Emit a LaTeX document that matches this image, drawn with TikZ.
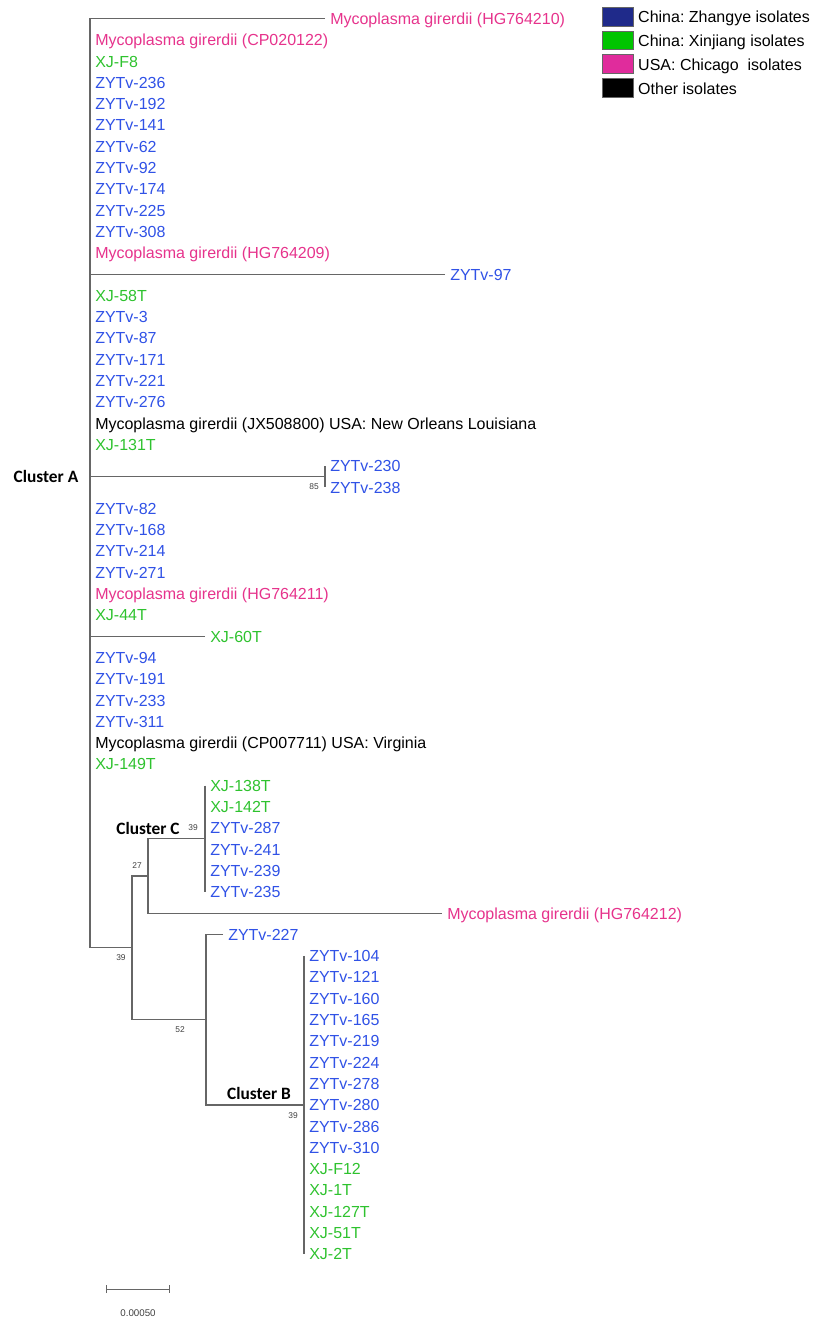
\documentclass[tikz,border=0pt]{standalone}
\usepackage{fontspec}
\setmainfont{Liberation Sans}
\newfontfamily\clusterfont{Carlito}
\usetikzlibrary{positioning,arrows.meta}
\definecolor{zycol}{HTML}{3052E6}
\definecolor{xjcol}{HTML}{2EC22E}
\definecolor{uscol}{HTML}{E6338C}
\definecolor{zybox}{HTML}{1F2A8A}
\definecolor{xjbox}{HTML}{00C400}
\definecolor{usbox}{HTML}{E02C9C}
\definecolor{brcol}{HTML}{666666}
\frenchspacing
\begin{document}
\begin{tikzpicture}[x=0.75pt,y=-0.75pt,
  br/.style={draw=brcol, line width=0.8pt},
  leaf/.style={anchor=west, inner xsep=3.75pt, inner ysep=0pt, text height=8.6pt, text depth=0pt, font=\fontsize{12}{12}\selectfont},
  zy/.style={leaf, text=zycol}, xj/.style={leaf, text=xjcol},
  us/.style={leaf, text=uscol}, ot/.style={leaf, text=black},
  bs/.style={font=\fontsize{6.3}{6.3}\selectfont, text=black!75, inner sep=0pt},
  cl/.style={font=\clusterfont\bfseries\fontsize{13}{13}\selectfont, inner sep=0pt},
  key/.style={draw=black!60, line width=0.4pt, minimum width=23.5pt, minimum height=14pt, inner sep=0pt},
  keytxt/.style={anchor=west, inner sep=0pt, text height=9pt, text depth=0pt, font=\fontsize{12}{12}\selectfont}]
\useasboundingbox (0,0) rectangle (813,1320);
% cluster A
\node[us] (hg10) at (325,18.7) {Mycoplasma girerdii (HG764210)};
\node[us] (cp22) at (90,40) {Mycoplasma girerdii (CP020122)};
\node[xj] (xjF8) at (90,61.3) {XJ-F8};
\node[zy] (zy236) at (90,82.6) {ZYTv-236};
\node[zy] (zy192) at (90,103.9) {ZYTv-192};
\node[zy] (zy141) at (90,125.2) {ZYTv-141};
\node[zy] (zy62) at (90,146.5) {ZYTv-62};
\node[zy] (zy92) at (90,167.8) {ZYTv-92};
\node[zy] (zy174) at (90,189.1) {ZYTv-174};
\node[zy] (zy225) at (90,210.4) {ZYTv-225};
\node[zy] (zy308) at (90,231.7) {ZYTv-308};
\node[us] (hg09) at (90,253) {Mycoplasma girerdii (HG764209)};
\node[zy] (zy97) at (445,274.3) {ZYTv-97};
\node[xj] (xj58) at (90,295.6) {XJ-58T};
\node[zy] (zy3) at (90,316.9) {ZYTv-3};
\node[zy] (zy87) at (90,338.2) {ZYTv-87};
\node[zy] (zy171) at (90,359.5) {ZYTv-171};
\node[zy] (zy221) at (90,380.8) {ZYTv-221};
\node[zy] (zy276) at (90,402.1) {ZYTv-276};
\node[ot] (jx00) at (90,423.4) {Mycoplasma girerdii (JX508800) USA: New Orleans Louisiana};
\node[xj] (xj131) at (90,444.7) {XJ-131T};
\node[zy] (zy230) at (325,466) {ZYTv-230};
\node[zy] (zy238) at (325,487.3) {ZYTv-238};
\node[zy] (zy82) at (90,508.6) {ZYTv-82};
\node[zy] (zy168) at (90,529.9) {ZYTv-168};
\node[zy] (zy214) at (90,551.2) {ZYTv-214};
\node[zy] (zy271) at (90,572.5) {ZYTv-271};
\node[us] (hg11) at (90,593.8) {Mycoplasma girerdii (HG764211)};
\node[xj] (xj44) at (90,615.1) {XJ-44T};
\node[xj] (xj60) at (205,636.4) {XJ-60T};
\node[zy] (zy94) at (90,657.7) {ZYTv-94};
\node[zy] (zy191) at (90,679) {ZYTv-191};
\node[zy] (zy233) at (90,700.3) {ZYTv-233};
\node[zy] (zy311) at (90,721.6) {ZYTv-311};
\node[ot] (cp11) at (90,742.9) {Mycoplasma girerdii (CP007711) USA: Virginia};
\node[xj] (xj149) at (90,764.2) {XJ-149T};
\coordinate (rtop) at (90,18.7);
\coordinate (rbot) at (90,947.9);
\coordinate (n39) at (132,947.9);
\coordinate (n85) at (325,476.6);
\draw[br] (hg10.west) -- (rtop) -- (rbot) -- (n39);
\draw[br] (zy97.west) -- (zy97.west -| rtop);
\draw[br] (n85 -| rtop) -- (n85);
\draw[br] (zy230.west) -- (zy238.west);
\draw[br] (xj60.west) -- (xj60.west -| rtop);
\node[cl] (clA) at (46,476) {Cluster A};
\node[bs] (b85) at (314,487) {85};
% cluster C
\node[xj] (xj138) at (205,785.5) {XJ-138T};
\node[xj] (xj142) at (205,806.8) {XJ-142T};
\node[zy] (zy287) at (205,828.1) {ZYTv-287};
\node[zy] (zy241) at (205,849.4) {ZYTv-241};
\node[zy] (zy239) at (205,870.7) {ZYTv-239};
\node[zy] (zy235) at (205,892) {ZYTv-235};
\node[us] (hg12) at (442,913.3) {Mycoplasma girerdii (HG764212)};
\coordinate (nC) at (205,838.8);
\coordinate (n27) at (148,876);
\draw[br] (xj138.west) -- (zy235.west);
\draw[br] (nC) -| (n27) |- (hg12.west);
\node[cl] (clC) at (148,828) {Cluster C};
\node[bs] (b39c) at (193,828) {39};
\node[bs] (b27) at (137,866) {27};
% cluster B
\node[zy] (zy227) at (223,934.6) {ZYTv-227};
\node[zy] (zy104) at (304,955.9) {ZYTv-104};
\node[zy] (zy121) at (304,977.2) {ZYTv-121};
\node[zy] (zy160) at (304,998.5) {ZYTv-160};
\node[zy] (zy165) at (304,1019.8) {ZYTv-165};
\node[zy] (zy219) at (304,1041.1) {ZYTv-219};
\node[zy] (zy224) at (304,1062.4) {ZYTv-224};
\node[zy] (zy278) at (304,1083.7) {ZYTv-278};
\node[zy] (zy280) at (304,1105) {ZYTv-280};
\node[zy] (zy286) at (304,1126.3) {ZYTv-286};
\node[zy] (zy310) at (304,1147.6) {ZYTv-310};
\node[xj] (xjF12) at (304,1168.9) {XJ-F12};
\node[xj] (xj1) at (304,1190.2) {XJ-1T};
\node[xj] (xj127) at (304,1211.5) {XJ-127T};
\node[xj] (xj51) at (304,1232.8) {XJ-51T};
\node[xj] (xj2) at (304,1254.1) {XJ-2T};
\coordinate (nB) at (304,1105);
\coordinate (n52) at (206,1019.8);
\draw[br] (zy104.west) -- (xj2.west);
\draw[br] (zy227.west) -| (n52) |- (nB);
\draw[br] (n27) -| (n39) |- (n52);
\node[cl] (clB) at (259,1093) {Cluster B};
\node[bs] (b39b) at (293,1116) {39};
\node[bs] (b52) at (180,1030) {52};
\node[bs] (b39) at (121,958) {39};
% scale bar
\coordinate (sbl) at (106,1289);
\coordinate (sbr) at (170,1289);
\draw[br, line width=0.7pt, {Bar[width=6pt]}-{Bar[width=6pt]}] (sbl) -- (sbr);
\node[font=\fontsize{7.3}{7.3}\selectfont, text=black!75, inner sep=0pt] (sbt) at (138,1313) {0.00050};
% legend
\node[key, fill=zybox] (kzy) at (617.5,16.5) {};
\node[key, fill=xjbox] (kxj) at (617.5,40.3) {};
\node[key, fill=usbox] (kus) at (617.5,64.1) {};
\node[key, fill=black] (kot) at (617.5,88) {};
\node[keytxt, right=3.4pt of kzy] (tzy) {China: Zhangye isolates};
\node[keytxt, right=3.4pt of kxj] (txj) {China: Xinjiang isolates};
\node[keytxt, right=3.4pt of kus] (tus) {USA: Chicago\ \ isolates};
\node[keytxt, right=3.4pt of kot] (tot) {Other isolates};
\end{tikzpicture}
\end{document}
